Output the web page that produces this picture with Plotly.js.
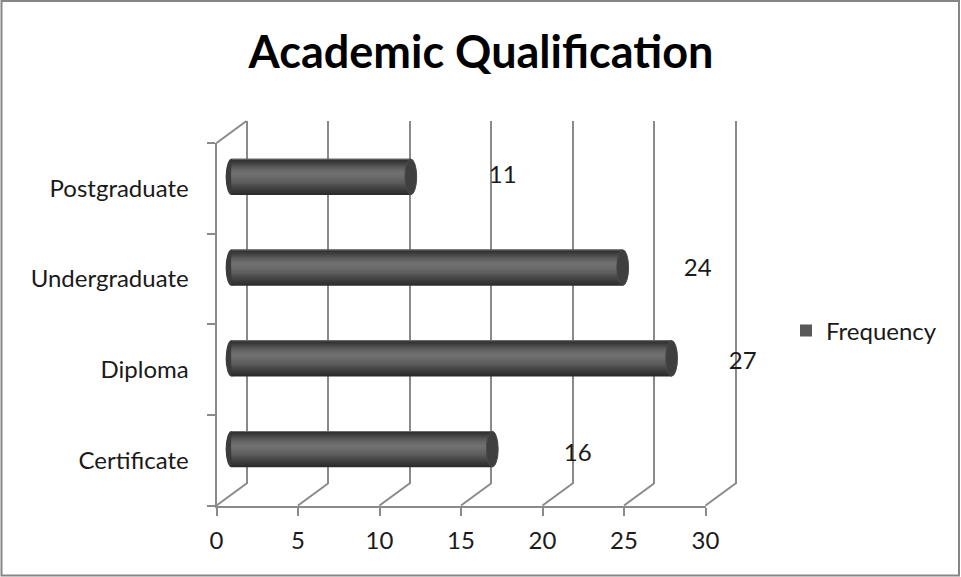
<!DOCTYPE html>
<html>
<head>
<meta charset="utf-8">
<script src="https://cdn.plot.ly/plotly-3.0.1.min.js"></script>
<style>
  html, body { margin: 0; padding: 0; background: #ffffff; }
  #chart { width: 961px; height: 577px; }
</style>
</head>
<body>
<div id="chart"></div>
<script>
// Respondents by highest academic qualification
const categories = ['Certificate', 'Diploma', 'Undergraduate', 'Postgraduate'];
const frequency = [16, 27, 24, 11];
const seriesName = 'Frequency';
const xTicks = [0, 5, 10, 15, 20, 25, 30];

const W = 961, H = 577;
const fx = p => p / W;          // pixel column -> paper x
const fy = p => 1 - p / H;      // pixel row -> paper y

// Pseudo-3D box: front face (axes), back wall (grid), mid-depth plane (cylinders)
const FRONT = { x0: 216.5, x1: 705.5, top: 143, bottom: 505.5 };
const BACK  = { x0: 246.5, x1: 735.5, top: 121, bottom: 483.5 };
const MID   = { x0: 231.5, x1: 720.5, top: 131.5, bottom: 494.5 };
const LABEL = { x0: 337.7, x1: 787.7, top: 130.7, bottom: 501.9 };
const X_MAX = 30;
const PX_PER_UNIT = (FRONT.x1 - FRONT.x0) / X_MAX;
const GRID_PAD = 0.4;    // keeps the 0 and 30 wall lines clear of the range ends
const BAR_PAD = 1;       // room for the rounded far end left of zero

const FONT = 'Lato, "Open Sans", "DejaVu Sans", sans-serif';
const AXIS_GREY = '#8a8a8a';
const TEXT = '#1a1a1a';

// Cylinder shading: outer (edge) layer first, highlight last
const shade = ['#2c2c2c', '#333333', '#3a3a3a', '#414141', '#484848', '#505050',
               '#595959', '#5f5f5f', '#646464', '#696969', '#6d6d6d', '#707070'];
const BAR_H = 0.40;
const HILITE = 0.035;       // highlight sits a little above the axis of the cylinder
const HILITE_HALF = 0.012;
const LEGEND_LAYER = 6;
const CAP_HALF = 0.36;

const traces = [];

// empty traces so the front and back subplots are laid out
traces.push({ type: 'scatter', x: [], y: [], xaxis: 'x', yaxis: 'y', showlegend: false, hoverinfo: 'skip' });
traces.push({ type: 'scatter', x: [], y: [], xaxis: 'x2', yaxis: 'y2', showlegend: false, hoverinfo: 'skip' });

// cylinder bodies: nested bands narrowing towards the highlight
const n = shade.length;
shade.forEach((c, k) => {
  const t = k / (n - 1);
  const lo = -BAR_H / 2 + t * ((HILITE - HILITE_HALF) + BAR_H / 2);
  const hi = BAR_H / 2 - t * (BAR_H / 2 - (HILITE + HILITE_HALF));
  traces.push({
    type: 'bar',
    orientation: 'h',
    x: frequency,
    y: categories,
    xaxis: 'x3',
    yaxis: 'y3',
    name: seriesName,
    offset: lo,
    width: hi - lo,
    marker: { color: c, line: { width: 0 } },
    showlegend: k === LEGEND_LAYER,
    hoverinfo: 'x+y'
  });
});
// thin light rim along the top edge
traces.push({
  type: 'bar', orientation: 'h', x: frequency, y: categories,
  xaxis: 'x3', yaxis: 'y3', name: seriesName,
  offset: BAR_H / 2 - 0.012, width: 0.012,
  marker: { color: '#6a6a6a', line: { width: 0 } },
  showlegend: false, hoverinfo: 'skip'
});

// value labels
traces.push({
  type: 'scatter',
  mode: 'text',
  x: frequency,
  y: categories,
  text: frequency.map(String),
  textposition: 'middle center',
  textfont: { family: FONT, size: 24, color: TEXT },
  xaxis: 'x4',
  yaxis: 'y4',
  showlegend: false,
  hoverinfo: 'skip'
});

const shapes = [];

// outer chart border
shapes.push({ type: 'rect', xref: 'paper', yref: 'paper',
  x0: fx(1.5), x1: fx(959), y0: fy(575.5), y1: fy(1),
  line: { color: '#868686', width: 2 }, fillcolor: 'rgba(0,0,0,0)' });

// floor lines joining each front tick to its wall line
xTicks.forEach(v => {
  shapes.push({ type: 'line', xref: 'paper', yref: 'paper', layer: 'below',
    x0: fx(FRONT.x0 + v * PX_PER_UNIT), y0: fy(FRONT.bottom),
    x1: fx(BACK.x0 + v * PX_PER_UNIT), y1: fy(BACK.bottom),
    line: { color: AXIS_GREY, width: 2 } });
});
// top-left edge of the box
shapes.push({ type: 'line', xref: 'paper', yref: 'paper', layer: 'below',
  x0: fx(FRONT.x0), y0: fy(FRONT.top), x1: fx(BACK.x0), y1: fy(BACK.top),
  line: { color: AXIS_GREY, width: 2 } });

// rounded far end and flat end cap of each cylinder
frequency.forEach((v, i) => {
  shapes.push({ type: 'circle', xref: 'x3', yref: 'y3', layer: 'below',
    x0: -CAP_HALF, x1: CAP_HALF, y0: i - BAR_H / 2, y1: i + BAR_H / 2,
    fillcolor: '#3c3c3c', line: { width: 0 } });
  shapes.push({ type: 'circle', xref: 'x3', yref: 'y3', layer: 'above',
    x0: v - CAP_HALF, x1: v + CAP_HALF, y0: i - BAR_H / 2 + 0.004, y1: i + BAR_H / 2 - 0.004,
    fillcolor: '#3f3f3f', line: { color: '#474747', width: 1 } });
});

const hidden = { visible: false, fixedrange: true };

const layout = {
  width: W,
  height: H,
  margin: { l: 0, r: 0, t: 0, b: 0, pad: 0 },
  paper_bgcolor: '#ffffff',
  plot_bgcolor: 'rgba(0,0,0,0)',
  font: { family: FONT, size: 24, color: TEXT },
  barmode: 'overlay',
  title: {
    text: 'Academic Qualification',
    font: { family: FONT, size: 45, color: '#000000', weight: 'bold' },
    x: fx(481), xanchor: 'center', xref: 'paper',
    y: fy(52), yanchor: 'middle', yref: 'paper'
  },
  showlegend: true,
  legend: {
    x: fx(786), y: fy(331), xanchor: 'left', yanchor: 'middle',
    bgcolor: 'rgba(0,0,0,0)', borderwidth: 0,
    font: { family: FONT, size: 24, color: TEXT },
    itemclick: false, itemdoubleclick: false
  },
  // front face: value ticks and category labels
  xaxis: {
    domain: [fx(FRONT.x0), fx(FRONT.x1)], range: [0, X_MAX], anchor: 'y',
    tickmode: 'array', tickvals: xTicks,
    ticks: 'outside', ticklen: 8, tickwidth: 2, tickcolor: AXIS_GREY,
    showline: true, linecolor: AXIS_GREY, linewidth: 2,
    showgrid: false, zeroline: false, fixedrange: true,
    tickfont: { family: FONT, size: 24, color: TEXT },
    ticklabelstandoff: 5
  },
  yaxis: {
    domain: [fy(FRONT.bottom), fy(FRONT.top)], anchor: 'x',
    type: 'category', categoryorder: 'array', categoryarray: categories,
    range: [-0.5, categories.length - 0.5],
    tickson: 'boundaries', ticks: 'outside', ticklen: 8, tickwidth: 2, tickcolor: AXIS_GREY,
    showline: true, linecolor: AXIS_GREY, linewidth: 2,
    showgrid: false, zeroline: false, fixedrange: true,
    tickfont: { family: FONT, size: 24, color: TEXT },
    ticklabelstandoff: 21
  },
  // back wall gridlines
  xaxis2: {
    domain: [fx(BACK.x0 - GRID_PAD * PX_PER_UNIT), fx(BACK.x1 + GRID_PAD * PX_PER_UNIT)],
    range: [-GRID_PAD, X_MAX + GRID_PAD], anchor: 'y2',
    tickmode: 'array', tickvals: xTicks, showticklabels: false, ticks: '',
    showgrid: true, gridcolor: AXIS_GREY, gridwidth: 2,
    showline: false, zeroline: false, fixedrange: true
  },
  yaxis2: Object.assign({ domain: [fy(BACK.bottom), fy(BACK.top)], anchor: 'x2', range: [0, 1] }, hidden),
  // cylinders
  xaxis3: Object.assign({ domain: [fx(MID.x0 - BAR_PAD * PX_PER_UNIT), fx(MID.x1)], anchor: 'y3',
    range: [-BAR_PAD, X_MAX] }, hidden),
  yaxis3: Object.assign({ domain: [fy(MID.bottom), fy(MID.top)], anchor: 'x3',
    type: 'category', categoryorder: 'array', categoryarray: categories,
    range: [-0.5, categories.length - 0.5] }, hidden),
  // value labels
  xaxis4: Object.assign({ domain: [fx(LABEL.x0), fx(LABEL.x1)], anchor: 'y4', range: [0, X_MAX] }, hidden),
  yaxis4: Object.assign({ domain: [fy(LABEL.bottom), fy(LABEL.top)], anchor: 'x4',
    type: 'category', categoryorder: 'array', categoryarray: categories,
    range: [-0.5, categories.length - 0.5] }, hidden),
  shapes: shapes
};

Plotly.newPlot('chart', traces, layout, { staticPlot: true, displayModeBar: false });
</script>
</body>
</html>
